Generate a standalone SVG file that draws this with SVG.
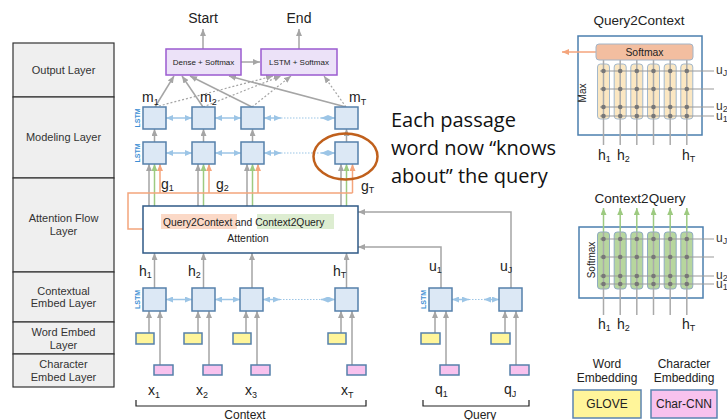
<svg xmlns="http://www.w3.org/2000/svg" width="727" height="420" viewBox="0 0 727 420">
<defs>
<marker id="ag" markerUnits="userSpaceOnUse" markerWidth="7" markerHeight="6" viewBox="0 0 7 6" refX="7" refY="3" orient="auto"><path d="M0,0 L7,3 L0,6 z" fill="#a5a5a5"/></marker>
<marker id="ao" markerUnits="userSpaceOnUse" markerWidth="7" markerHeight="6" viewBox="0 0 7 6" refX="7" refY="3" orient="auto"><path d="M0,0 L7,3 L0,6 z" fill="#f4a57c"/></marker>
<marker id="agr" markerUnits="userSpaceOnUse" markerWidth="7" markerHeight="6" viewBox="0 0 7 6" refX="7" refY="3" orient="auto"><path d="M0,0 L7,3 L0,6 z" fill="#9dca80"/></marker>
<marker id="ab" markerUnits="userSpaceOnUse" markerWidth="7" markerHeight="6" viewBox="0 0 7 6" refX="7" refY="3" orient="auto-start-reverse"><path d="M0,0 L7,3 L0,6 z" fill="#9cc5e6"/></marker>
<style>
text{font-family:"Liberation Sans",Arial,sans-serif;fill:#222}
.layer rect{fill:#efefef;stroke:#333;stroke-width:1.2}
.lt{font-size:11px;text-anchor:middle;fill:#333}
.lstm{fill:#dce8f5;stroke:#5580ab;stroke-width:1.5}
.yel{fill:#fff59a;stroke:#5580ab;stroke-width:1.5}
.pnk{fill:#f8c2ee;stroke:#5580ab;stroke-width:1.5}
.out{fill:#ece2f8;stroke:#9b5bd0;stroke-width:1.5}
.ga{stroke:#a5a5a5;stroke-width:1.5;fill:none;marker-end:url(#ag)}
.gd{stroke:#a5a5a5;stroke-width:1.2;fill:none;stroke-dasharray:2,2;marker-end:url(#ag)}
.oa{stroke:#f4a57c;stroke-width:1.5;fill:none;marker-end:url(#ao)}
.ol{stroke:#f4a57c;stroke-width:1.5;fill:none}
.gra{stroke:#9dca80;stroke-width:1.5;fill:none;marker-end:url(#agr)}
.ba{stroke:#9cc5e6;stroke-width:1.5;fill:none;marker-start:url(#ab);marker-end:url(#ab)}
.bd{stroke:#9cc5e6;stroke-width:1.2;fill:none;stroke-dasharray:1.5,1.5}
.lbl{font-size:7px;font-weight:bold;fill:#3d8fd4;text-anchor:middle}
.var{font-size:14px;fill:#222}
.sub{font-size:9px}
.ul{font-size:12px;fill:#333}
.grid{stroke:#aaa;stroke-width:1.5}
.hl{stroke:#999;stroke-width:1.2}
.dot{fill:#777}
.panel{fill:#fff;stroke:#4b7fae;stroke-width:1.5}
.q2c{fill:#fbe7c2;stroke:#a3b8cc;stroke-width:1}
.c2q{fill:#b7d69e;stroke:#8fabc2;stroke-width:1}
.note{font-family:"Open Sans","Noto Sans",sans-serif;font-size:20px;fill:#111}
</style>
</defs>
<rect width="727" height="420" fill="#fff"/>

<g id="layers" class="layer">
<rect x="13" y="43" width="101" height="54"/>
<rect x="13" y="97" width="101" height="81"/>
<rect x="13" y="178" width="101" height="94"/>
<rect x="13" y="272" width="101" height="50"/>
<rect x="13" y="322" width="101" height="32"/>
<rect x="13" y="354" width="101" height="33"/>
<text class="lt" x="63.5" y="74">Output Layer</text>
<text class="lt" x="63.5" y="141">Modeling Layer</text>
<text class="lt" x="63.5" y="222">Attention Flow</text>
<text class="lt" x="63.5" y="235">Layer</text>
<text class="lt" x="63.5" y="295">Contextual</text>
<text class="lt" x="63.5" y="307">Embed Layer</text>
<text class="lt" x="63.5" y="336">Word Embed</text>
<text class="lt" x="63.5" y="349">Layer</text>
<text class="lt" x="63.5" y="368">Character</text>
<text class="lt" x="63.5" y="381">Embed Layer</text>
</g>

<g id="connectors">
<line class="ga" x1="203" y1="49" x2="203" y2="29"/>
<line class="ga" x1="299" y1="49" x2="299" y2="29"/>
<line class="ga" x1="241" y1="62" x2="260" y2="62"/>
<line class="ga" x1="155" y1="107" x2="174" y2="76"/>
<line class="ga" x1="203" y1="107" x2="182" y2="76"/>
<line class="ga" x1="252" y1="107" x2="190" y2="76"/>
<line class="ga" x1="346" y1="107" x2="229" y2="76"/>
<line class="gd" x1="155" y1="107" x2="273" y2="76"/>
<line class="gd" x1="203" y1="107" x2="281" y2="76"/>
<line class="gd" x1="252" y1="107" x2="291" y2="76"/>
<line class="gd" x1="346" y1="107" x2="324" y2="76"/>
<line class="ba" x1="166" y1="118" x2="192" y2="118"/>
<line class="ba" x1="215" y1="118" x2="241" y2="118"/>
<line class="ba" x1="264" y1="118" x2="281" y2="118"/>
<line class="bd" x1="281" y1="118" x2="321" y2="118"/>
<line class="ba" x1="321" y1="118" x2="335" y2="118"/>
<line class="ba" x1="166" y1="153" x2="192" y2="153"/>
<line class="ba" x1="215" y1="153" x2="241" y2="153"/>
<line class="ba" x1="264" y1="153" x2="281" y2="153"/>
<line class="bd" x1="281" y1="153" x2="321" y2="153"/>
<line class="ba" x1="321" y1="153" x2="335" y2="153"/>
<line class="ga" x1="154.5" y1="142" x2="154.5" y2="129"/>
<line class="ga" x1="203.5" y1="142" x2="203.5" y2="129"/>
<line class="ga" x1="252.5" y1="142" x2="252.5" y2="129"/>
<line class="ga" x1="346.5" y1="142" x2="346.5" y2="129"/>
<line class="ga" x1="149" y1="206" x2="149" y2="164"/>
<line class="ga" x1="198" y1="206" x2="198" y2="164"/>
<line class="ga" x1="247" y1="206" x2="247" y2="164"/>
<line class="ga" x1="341" y1="206" x2="341" y2="164"/>
<line class="gra" x1="154.5" y1="206" x2="154.5" y2="164"/>
<line class="gra" x1="203.5" y1="206" x2="203.5" y2="164"/>
<line class="gra" x1="252.5" y1="206" x2="252.5" y2="164"/>
<line class="gra" x1="346.5" y1="206" x2="346.5" y2="164"/>
<polyline class="ol" points="143,229 128,229 128,193 352.5,193"/>
<line class="oa" x1="160" y1="193" x2="160" y2="164"/>
<line class="oa" x1="209" y1="193" x2="209" y2="164"/>
<line class="oa" x1="258" y1="193" x2="258" y2="164"/>
<line class="oa" x1="352.5" y1="193" x2="352.5" y2="164"/>
<line class="ga" x1="154.5" y1="288" x2="154.5" y2="253"/>
<line class="ga" x1="203.5" y1="288" x2="203.5" y2="253"/>
<line class="ga" x1="252" y1="288" x2="252" y2="253"/>
<line class="ga" x1="346.5" y1="288" x2="346.5" y2="253"/>
<polyline class="ga" points="441,288 441,247 358,247"/>
<polyline class="ga" points="511,288 511,212 358,212"/>
<line class="ba" x1="166" y1="299.5" x2="192" y2="299.5"/>
<line class="ba" x1="215" y1="299.5" x2="240" y2="299.5"/>
<line class="ba" x1="263" y1="299.5" x2="280" y2="299.5"/>
<line class="bd" x1="280" y1="299.5" x2="321" y2="299.5"/>
<line class="ba" x1="321" y1="299.5" x2="335" y2="299.5"/>
<line class="ba" x1="452" y1="299.5" x2="469" y2="299.5"/>
<line class="bd" x1="469" y1="299.5" x2="484" y2="299.5"/>
<line class="ba" x1="484" y1="299.5" x2="499" y2="299.5"/>
<line class="ga" x1="149" y1="333" x2="149" y2="311"/>
<line class="ga" x1="160" y1="365" x2="160" y2="311"/>
<line class="ga" x1="198" y1="333" x2="198" y2="311"/>
<line class="ga" x1="209" y1="365" x2="209" y2="311"/>
<line class="ga" x1="246" y1="333" x2="246" y2="311"/>
<line class="ga" x1="257" y1="365" x2="257" y2="311"/>
<line class="ga" x1="341" y1="333" x2="341" y2="311"/>
<line class="ga" x1="352" y1="365" x2="352" y2="311"/>
<line class="ga" x1="435" y1="333" x2="435" y2="311"/>
<line class="ga" x1="446" y1="365" x2="446" y2="311"/>
<line class="ga" x1="505" y1="333" x2="505" y2="311"/>
<line class="ga" x1="516" y1="365" x2="516" y2="311"/>
<path d="M136,400 V406 H366 V400" fill="none" stroke="#222" stroke-width="1.2"/>
<path d="M423,400 V406 H529 V400" fill="none" stroke="#222" stroke-width="1.2"/>
</g>

<g id="output">
<text x="203" y="23" font-size="14" text-anchor="middle">Start</text>
<text x="299" y="23" font-size="14" text-anchor="middle">End</text>
<g id="dense"><rect class="out" x="166" y="49" width="75" height="26"/><text x="203.5" y="65" font-size="8" text-anchor="middle">Dense + Softmax</text></g>
<g id="lstmsoft"><rect class="out" x="261" y="49" width="76" height="26"/><text x="299" y="65" font-size="8" text-anchor="middle">LSTM + Softmax</text></g>
</g>

<g id="modeling">
<rect class="lstm" x="143" y="107" width="23" height="22"/>
<rect class="lstm" x="192" y="107" width="23" height="22"/>
<rect class="lstm" x="241" y="107" width="23" height="22"/>
<rect class="lstm" x="335" y="107" width="23" height="22"/>
<rect class="lstm" x="143" y="142" width="23" height="22"/>
<rect class="lstm" x="192" y="142" width="23" height="22"/>
<rect class="lstm" x="241" y="142" width="23" height="22"/>
<rect class="lstm" x="335" y="142" width="23" height="22"/>
<text class="lbl" transform="translate(139.5,118) rotate(-90)">LSTM</text>
<text class="lbl" transform="translate(139.5,153) rotate(-90)">LSTM</text>
<text class="var" x="142" y="102">m<tspan class="sub" dy="3">1</tspan></text>
<text class="var" x="200" y="102">m<tspan class="sub" dy="3">2</tspan></text>
<text class="var" x="349" y="102">m<tspan class="sub" dy="3">T</tspan></text>
<text class="var" x="161" y="189">g<tspan class="sub" dy="2">1</tspan></text>
<text class="var" x="216" y="189">g<tspan class="sub" dy="2">2</tspan></text>
<text class="var" x="361" y="191">g<tspan class="sub" dy="2">T</tspan></text>
<ellipse cx="345.5" cy="156.5" rx="32" ry="23" fill="none" stroke="#c0601c" stroke-width="2.5"/>
</g>

<g id="note">
<text class="note" x="391" y="127">Each passage</text>
<text class="note" x="391" y="155">word now “knows</text>
<text class="note" x="391" y="183">about” the query</text>
</g>

<g id="attention">
<rect x="143" y="206" width="215" height="47" fill="#fff" stroke="#2f5a87" stroke-width="1.5"/>
<rect x="161" y="214" width="76" height="15" fill="#fbd9c7"/>
<rect x="257" y="214" width="77" height="15" fill="#ddedd1"/>
<text x="163" y="226" font-size="10.3">Query2Context and Context2Query</text>
<text x="248" y="242" font-size="10.5" text-anchor="middle">Attention</text>
</g>

<g id="contextual">
<rect class="lstm" x="143" y="288" width="23" height="23"/>
<rect class="lstm" x="192" y="288" width="23" height="23"/>
<rect class="lstm" x="240" y="288" width="23" height="23"/>
<rect class="lstm" x="335" y="288" width="23" height="23"/>
<rect class="lstm" x="429" y="288" width="23" height="23"/>
<rect class="lstm" x="499" y="288" width="23" height="23"/>
<text class="lbl" transform="translate(139.5,299.5) rotate(-90)">LSTM</text>
<text class="lbl" transform="translate(425.5,299.5) rotate(-90)">LSTM</text>
<text class="var" x="139" y="276" font-size="13">h<tspan class="sub" dy="2">1</tspan></text>
<text class="var" x="188" y="276" font-size="13">h<tspan class="sub" dy="2">2</tspan></text>
<text class="var" x="333" y="276" font-size="13">h<tspan class="sub" dy="2">T</tspan></text>
<text class="var" x="429" y="271" font-size="13">u<tspan class="sub" dy="2">1</tspan></text>
<text class="var" x="500" y="271" font-size="13">u<tspan class="sub" dy="2">J</tspan></text>
</g>

<g id="embeddings">
<rect class="yel" x="136" y="333" width="18" height="11"/>
<rect class="yel" x="184" y="333" width="18" height="11"/>
<rect class="yel" x="233" y="333" width="18" height="11"/>
<rect class="yel" x="328" y="333" width="18" height="11"/>
<rect class="yel" x="421" y="333" width="19" height="11"/>
<rect class="yel" x="491" y="333" width="19" height="11"/>
<rect class="pnk" x="154" y="365" width="19" height="10"/>
<rect class="pnk" x="203" y="365" width="19" height="10"/>
<rect class="pnk" x="251" y="365" width="19" height="10"/>
<rect class="pnk" x="347" y="365" width="19" height="10"/>
<rect class="pnk" x="440" y="365" width="19" height="10"/>
<rect class="pnk" x="510" y="365" width="19" height="10"/>
</g>

<g id="inputs">
<text class="var" x="148" y="395">x<tspan class="sub" dy="3">1</tspan></text>
<text class="var" x="196" y="395">x<tspan class="sub" dy="3">2</tspan></text>
<text class="var" x="245" y="395">x<tspan class="sub" dy="3">3</tspan></text>
<text class="var" x="341" y="395">x<tspan class="sub" dy="3">T</tspan></text>
<text class="var" x="435" y="394">q<tspan class="sub" dy="3">1</tspan></text>
<text class="var" x="504" y="394">q<tspan class="sub" dy="3">J</tspan></text>
<text x="245" y="419" font-size="12" text-anchor="middle">Context</text>
<text x="480" y="419" font-size="12" text-anchor="middle">Query</text>
</g>

<g id="query2context">
<text x="639" y="25" font-size="13.5" text-anchor="middle">Query2Context</text>
<rect class="panel" x="578" y="36" width="124" height="99"/>
<line stroke="#f4a57c" stroke-width="1.5" x1="596" y1="52" x2="562" y2="52" marker-end="url(#ao)"/>
<rect class="q2c" x="597.5" y="64" width="12" height="55" rx="3"/>
<rect class="q2c" x="614.2" y="64" width="12" height="55" rx="3"/>
<rect class="q2c" x="630.8" y="64" width="12" height="55" rx="3"/>
<rect class="q2c" x="647.5" y="64" width="12" height="55" rx="3"/>
<rect class="q2c" x="664.2" y="64" width="12" height="55" rx="3"/>
<rect class="q2c" x="680.8" y="64" width="12" height="55" rx="3"/>
<g class="grid">
<line x1="603.5" y1="60" x2="603.5" y2="145"/><line x1="620.2" y1="60" x2="620.2" y2="145"/><line x1="636.8" y1="60" x2="636.8" y2="145"/><line x1="653.5" y1="60" x2="653.5" y2="145"/><line x1="670.2" y1="60" x2="670.2" y2="145"/><line x1="686.8" y1="60" x2="686.8" y2="145"/>
</g>
<g class="hl">
<line x1="600" y1="71" x2="714" y2="71"/><line x1="600" y1="89" x2="714" y2="89"/><line x1="600" y1="107" x2="714" y2="107"/><line x1="600" y1="116" x2="714" y2="116"/>
</g>
<g class="dot">
<circle cx="603.5" cy="71" r="2.3"/><circle cx="620.2" cy="71" r="2.3"/><circle cx="636.8" cy="71" r="2.3"/><circle cx="653.5" cy="71" r="2.3"/><circle cx="670.2" cy="71" r="2.3"/><circle cx="686.8" cy="71" r="2.3"/>
<circle cx="603.5" cy="89" r="2.3"/><circle cx="620.2" cy="89" r="2.3"/><circle cx="636.8" cy="89" r="2.3"/><circle cx="653.5" cy="89" r="2.3"/><circle cx="670.2" cy="89" r="2.3"/><circle cx="686.8" cy="89" r="2.3"/>
<circle cx="603.5" cy="107" r="2.3"/><circle cx="620.2" cy="107" r="2.3"/><circle cx="636.8" cy="107" r="2.3"/><circle cx="653.5" cy="107" r="2.3"/><circle cx="670.2" cy="107" r="2.3"/><circle cx="686.8" cy="107" r="2.3"/>
<circle cx="603.5" cy="116" r="2.3"/><circle cx="620.2" cy="116" r="2.3"/><circle cx="636.8" cy="116" r="2.3"/><circle cx="653.5" cy="116" r="2.3"/><circle cx="670.2" cy="116" r="2.3"/><circle cx="686.8" cy="116" r="2.3"/>
</g>
<rect x="596" y="44" width="97" height="16" rx="3" fill="#f3bea0" stroke="#a3b4c6" stroke-width="1"/>
<text x="644.5" y="56" font-size="10.4" text-anchor="middle" fill="#555">Softmax</text>
<text transform="translate(586,93) rotate(-90)" font-size="10" text-anchor="middle" fill="#888">Max</text>
<text class="ul" x="716" y="74">u<tspan class="sub" dy="2">J</tspan></text>
<text class="ul" x="716" y="110">u<tspan class="sub" dy="2">2</tspan></text>
<text class="ul" x="716" y="120">u<tspan class="sub" dy="2">1</tspan></text>
<text class="var" x="598" y="160" font-size="13">h<tspan class="sub" dy="2">1</tspan></text>
<text class="var" x="617" y="160" font-size="13">h<tspan class="sub" dy="2">2</tspan></text>
<text class="var" x="682" y="160" font-size="13">h<tspan class="sub" dy="2">T</tspan></text>
</g>

<g id="context2query">
<text x="640" y="203" font-size="13.5" text-anchor="middle">Context2Query</text>
<rect class="panel" x="579" y="227" width="124" height="71"/>
<g class="gra">
<line x1="603.5" y1="232" x2="603.5" y2="208"/><line x1="620.2" y1="232" x2="620.2" y2="208"/><line x1="636.8" y1="232" x2="636.8" y2="208"/><line x1="653.5" y1="232" x2="653.5" y2="208"/><line x1="670.2" y1="232" x2="670.2" y2="208"/><line x1="686.8" y1="232" x2="686.8" y2="208"/>
</g>
<rect class="c2q" x="597.5" y="232" width="12" height="57" rx="3"/>
<rect class="c2q" x="614.2" y="232" width="12" height="57" rx="3"/>
<rect class="c2q" x="630.8" y="232" width="12" height="57" rx="3"/>
<rect class="c2q" x="647.5" y="232" width="12" height="57" rx="3"/>
<rect class="c2q" x="664.2" y="232" width="12" height="57" rx="3"/>
<rect class="c2q" x="680.8" y="232" width="12" height="57" rx="3"/>
<g class="grid">
<line x1="603.5" y1="232" x2="603.5" y2="315"/><line x1="620.2" y1="232" x2="620.2" y2="315"/><line x1="636.8" y1="232" x2="636.8" y2="315"/><line x1="653.5" y1="232" x2="653.5" y2="315"/><line x1="670.2" y1="232" x2="670.2" y2="315"/><line x1="686.8" y1="232" x2="686.8" y2="315"/>
</g>
<g class="hl">
<line x1="600" y1="239" x2="714" y2="239"/><line x1="600" y1="257" x2="714" y2="257"/><line x1="600" y1="276" x2="714" y2="276"/><line x1="600" y1="284" x2="714" y2="284"/>
</g>
<g class="dot">
<circle cx="603.5" cy="239" r="2.3"/><circle cx="620.2" cy="239" r="2.3"/><circle cx="636.8" cy="239" r="2.3"/><circle cx="653.5" cy="239" r="2.3"/><circle cx="670.2" cy="239" r="2.3"/><circle cx="686.8" cy="239" r="2.3"/>
<circle cx="603.5" cy="257" r="2.3"/><circle cx="620.2" cy="257" r="2.3"/><circle cx="636.8" cy="257" r="2.3"/><circle cx="653.5" cy="257" r="2.3"/><circle cx="670.2" cy="257" r="2.3"/><circle cx="686.8" cy="257" r="2.3"/>
<circle cx="603.5" cy="276" r="2.3"/><circle cx="620.2" cy="276" r="2.3"/><circle cx="636.8" cy="276" r="2.3"/><circle cx="653.5" cy="276" r="2.3"/><circle cx="670.2" cy="276" r="2.3"/><circle cx="686.8" cy="276" r="2.3"/>
<circle cx="603.5" cy="284" r="2.3"/><circle cx="620.2" cy="284" r="2.3"/><circle cx="636.8" cy="284" r="2.3"/><circle cx="653.5" cy="284" r="2.3"/><circle cx="670.2" cy="284" r="2.3"/><circle cx="686.8" cy="284" r="2.3"/>
</g>
<text transform="translate(595,260) rotate(-90)" font-size="10" text-anchor="middle" fill="#6a9c4c">Softmax</text>
<text class="ul" x="716" y="242">u<tspan class="sub" dy="2">J</tspan></text>
<text class="ul" x="716" y="279">u<tspan class="sub" dy="2">2</tspan></text>
<text class="ul" x="716" y="288">u<tspan class="sub" dy="2">1</tspan></text>
<text class="var" x="598" y="329" font-size="13">h<tspan class="sub" dy="2">1</tspan></text>
<text class="var" x="617" y="329" font-size="13">h<tspan class="sub" dy="2">2</tspan></text>
<text class="var" x="682" y="329" font-size="13">h<tspan class="sub" dy="2">T</tspan></text>
</g>

<g id="legend">
<text x="607" y="368" font-size="12" text-anchor="middle" fill="#444">Word</text>
<text x="607" y="382" font-size="12" text-anchor="middle" fill="#444">Embedding</text>
<text x="684" y="368" font-size="12" text-anchor="middle" fill="#444">Character</text>
<text x="684" y="382" font-size="12" text-anchor="middle" fill="#444">Embedding</text>
<g id="glove"><rect x="573" y="390" width="68" height="28" fill="#fff59a" stroke="#5b84b1" stroke-width="1.5"/><text x="607" y="408" font-size="12" text-anchor="middle">GLOVE</text></g>
<g id="charcnn"><rect x="651" y="390" width="66" height="28" fill="#f8c2ee" stroke="#5b84b1" stroke-width="1.5"/><text x="684" y="408" font-size="12" text-anchor="middle">Char-CNN</text></g>
</g>
</svg>
